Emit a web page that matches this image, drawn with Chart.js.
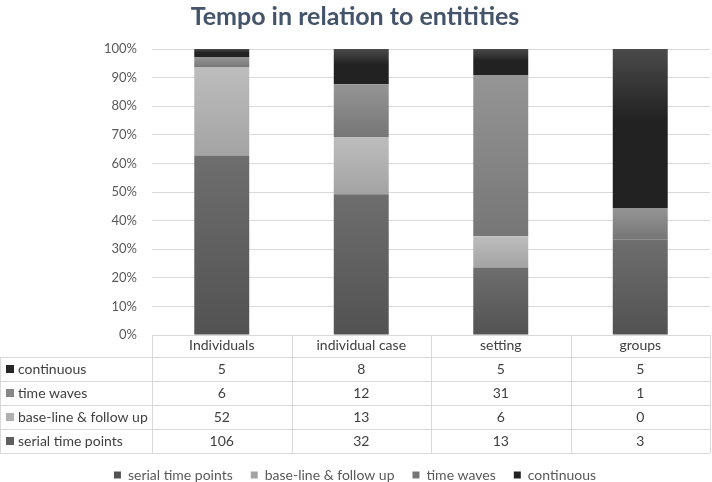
<!DOCTYPE html>
<html>
<head>
<meta charset="utf-8">
<script src="https://cdn.jsdelivr.net/npm/chart.js@4"></script>
<style>
  html, body { margin: 0; padding: 0; background: #ffffff; }
  #wrap { width: 712px; height: 482px; position: relative; }
</style>
</head>
<body>
<div id="wrap"><canvas id="c" width="712" height="482"></canvas></div>
<script>
const chartTitle = 'Tempo in relation to entitities';
const categories = ['Individuals', 'individual case', 'setting', 'groups'];
const seriesNames = ['serial time points', 'base-line & follow up', 'time waves', 'continuous'];
const serialTimePoints = [106, 32, 13, 3];
const baselineFollowUp = [52, 13, 6, 0];
const timeWaves = [6, 12, 31, 1];
const continuous = [5, 8, 5, 5];
const percentTicks = [0, 10, 20, 30, 40, 50, 60, 70, 80, 90, 100];

const seriesValues = [serialTimePoints, baselineFollowUp, timeWaves, continuous];
const totals = categories.map((_, i) => seriesValues.reduce((s, arr) => s + arr[i], 0));

const seriesStyles = [
  { flat: '#5f5f5f', stops: [[0, '#6e6e6e'], [1, '#525252']] },
  { flat: '#b0b0b0', stops: [[0, '#bdbdbd'], [1, '#a3a3a3']] },
  { flat: '#878787', stops: [[0, '#959595'], [1, '#767676']] },
  { flat: '#262626', stops: [[0, '#4a4a4a'], [0.45, '#222222'], [1, '#222222']] }
];

function segmentFill(si) {
  const st = seriesStyles[si];
  return function (ctx) {
    if (ctx.type !== 'data') return st.flat;
    const chart = ctx.chart;
    const y = chart.scales && chart.scales.y;
    if (!y || !chart.chartArea) return st.flat;
    const i = ctx.dataIndex;
    let start = 0;
    for (let k = 0; k < ctx.datasetIndex; k++) start += chart.data.datasets[k].data[i];
    const end = start + chart.data.datasets[ctx.datasetIndex].data[i];
    const yTop = y.getPixelForValue(end), yBot = y.getPixelForValue(start);
    if (!(yBot - yTop > 0.5)) return st.flat;
    const g = chart.ctx.createLinearGradient(0, yTop, 0, yBot);
    st.stops.forEach(s => g.addColorStop(s[0], s[1]));
    return g;
  };
}

const datasets = seriesNames.map((name, si) => ({
  label: name,
  data: seriesValues[si].map((v, i) => v / totals[i] * 100),
  backgroundColor: segmentFill(si),
  borderWidth: 0,
  barPercentage: 0.394,
  categoryPercentage: 1.0
}));

const FONT = 'Lato, "Open Sans", "Liberation Sans", sans-serif';
const HEADER_H = 22, ROW_H = 24;

const tablePlugin = {
  id: 'dataTable',
  afterDraw(chart) {
    const c = chart.ctx, a = chart.chartArea;
    const left = a.left, right = a.right;
    const top = a.bottom;
    const rowsTop = top + HEADER_H;
    const nRows = seriesNames.length;
    const bottom = rowsTop + nRows * ROW_H;
    const colW = (right - left) / categories.length;
    c.save();
    c.strokeStyle = '#d9d9d9';
    c.lineWidth = 1;
    c.beginPath();
    c.moveTo(left, Math.round(top) + 0.5); c.lineTo(right, Math.round(top) + 0.5);
    for (let r = 0; r <= nRows; r++) {
      const yy = Math.round(rowsTop + r * ROW_H) + 0.5;
      c.moveTo(0, yy); c.lineTo(right, yy);
    }
    for (let k = 0; k <= categories.length; k++) {
      const xx = Math.round(left + k * colW) + 0.5;
      c.moveTo(xx, top); c.lineTo(xx, bottom);
    }
    c.moveTo(0.5, rowsTop); c.lineTo(0.5, bottom);
    c.stroke();

    c.font = '14px ' + FONT;
    c.textBaseline = 'middle';
    for (let r = 0; r < nRows; r++) {
      const si = nRows - 1 - r;
      const cy = rowsTop + r * ROW_H + ROW_H / 2;
      c.fillStyle = seriesStyles[si].flat;
      c.fillRect(6, cy - 4, 8, 8);
      c.fillStyle = '#404040';
      c.textAlign = 'left';
      c.fillText(seriesNames[si], 18, cy);
      c.textAlign = 'center';
      for (let i = 0; i < categories.length; i++) {
        c.fillText(String(seriesValues[si][i]), left + colW * (i + 0.5), cy);
      }
    }
    c.restore();
  }
};

new Chart(document.getElementById('c'), {
  type: 'bar',
  data: { labels: categories, datasets },
  plugins: [tablePlugin],
  options: {
    responsive: false,
    animation: false,
    devicePixelRatio: 1,
    layout: { padding: { left: 0, right: 2, top: 2, bottom: -10 } },
    plugins: {
      title: {
        display: true,
        text: chartTitle,
        color: '#44546a',
        font: { family: FONT, size: 25, weight: 'bold' },
        padding: { top: 0, bottom: 17 }
      },
      legend: {
        position: 'bottom',
        labels: {
          color: '#595959',
          font: { family: FONT, size: 14 },
          boxWidth: 7,
          boxHeight: 7,
          padding: 18
        }
      },
      tooltip: { enabled: false }
    },
    scales: {
      x: {
        stacked: true,
        grid: { display: false, drawTicks: false },
        border: { display: false },
        ticks: { color: '#404040', font: { family: FONT, size: 14 }, padding: 2, maxRotation: 0 },
        afterFit(scale) { scale.height = 115; }
      },
      y: {
        stacked: true,
        min: 0,
        max: 100,
        afterBuildTicks(scale) { scale.ticks = percentTicks.map(v => ({ value: v })); },
        grid: { color: '#d9d9d9', drawTicks: false },
        border: { display: false },
        ticks: {
          color: '#595959',
          font: { family: FONT, size: 13 },
          padding: 15,
          callback: v => v + '%'
        },
        afterFit(scale) { scale.width = 152; }
      }
    }
  }
});
</script>
</body>
</html>
